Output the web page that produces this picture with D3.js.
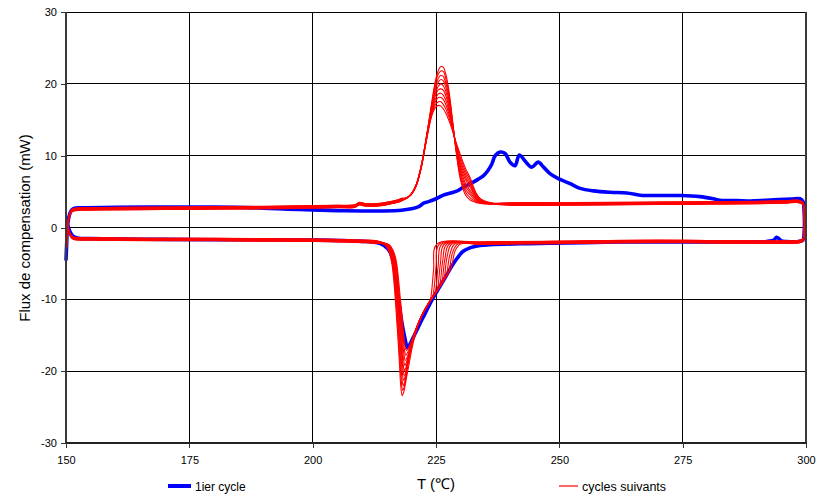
<!DOCTYPE html>
<html><head><meta charset="utf-8">
<script src="https://cdn.jsdelivr.net/npm/d3@7"></script>
<style>
body{margin:0;background:#fff}
svg{display:block}
text{font-family:"Liberation Sans",Arial,sans-serif;fill:#000}
</style>
</head><body><svg id="c" width="828" height="499"></svg>
<script>
// ---------- data ----------
const xTicks = [150, 175, 200, 225, 250, 275, 300];
const yTicks = [-30, -20, -10, 0, 10, 20, 30];
const yTickLabels = ["-30", "-20", "-10", "0", "10", "20", "30"];
const xTitle = "T (\u2103)";
const yTitle = "Flux de compensation (mW)";
const seriesNames = ["1ier cycle", "cycles suivants"];

// 1st cycle (blue): heating branch then cooling branch, [T, flux]
const blueHeat = [[150.0,-4.6],[150.15,-2.0],[150.3,0.2],[150.6,1.5],[151.0,2.3],[151.6,2.65],[153,2.75],[160,2.8],[170,2.85],[180,2.85],[190,2.7],[195,2.55],[200,2.45],[205,2.35],[210,2.3],[214,2.3],[218,2.4],[220,2.6],[221.5,2.9],[222.5,3.4],[223.5,3.6],[225,4.0],[226.5,4.5],[228,4.8],[229.3,5.1],[230.5,5.6],[232,6.1],[233.5,6.7],[234.6,7.2],[235.5,7.9],[236.3,8.8],[237.0,10.0],[238.0,10.5],[239.0,10.3],[240.0,9.1],[241.0,8.6],[241.9,10.1],[243.0,9.3],[244.4,8.4],[245.7,9.1],[246.8,8.4],[248.1,7.5],[249.8,6.8],[252.2,6.1],[254.2,5.45],[256.9,5.1],[260.3,4.9],[263.7,4.8],[266.4,4.5],[270,4.45],[274.6,4.45],[278.5,4.3],[281.2,4.0],[282.6,3.8],[286,3.75],[289.3,3.7],[293.4,3.85],[297,3.95],[298.8,4.0],[299.4,3.6],[299.6,2.5],[299.6,-1.0],[299.4,-1.75],[298.5,-1.95]];
const blueCool = [[296,-1.95],[295,-1.85],[294.4,-1.5],[294.0,-1.35],[293.5,-1.75],[292,-1.95],[285,-2.0],[275,-2.0],[265,-2.0],[255,-2.1],[248,-2.2],[242,-2.27],[236,-2.4],[233.9,-2.5],[232,-2.8],[230.5,-3.3],[229.5,-4.1],[228.5,-5.05],[226.5,-7.4],[224.5,-9.7],[222.4,-12.5],[220.4,-15.3],[219.6,-16.4],[219.2,-16.7],[218.7,-15.4],[218.0,-12.9],[217.0,-8.3],[216.3,-4.6],[215.3,-3.0],[213.6,-2.2],[209.6,-1.9],[205.5,-1.8],[200,-1.75],[190,-1.7],[180,-1.7],[170,-1.65],[160,-1.6],[155,-1.55],[152.5,-1.5],[151.5,-1.25],[150.9,-0.7],[150.5,0.0],[150.35,0.5]];

// following cycles (red): shared baseline pieces
const redHeatStart = [[150.0,-4.6],[150.15,-2.0],[150.3,0.2],[150.6,1.4],[151.0,2.2],[151.6,2.45],[153,2.55],[160,2.6],[170,2.65],[180,2.7],[190,2.75],[200,2.85],[205,2.9],[208.5,2.95],[209.5,3.3],[210.5,3.15],[212,3.1],[214,3.2],[216,3.45],[217.5,3.7],[218,3.85]];
const redPeakT = [219, 220, 221, 222, 223, 224, 224.5, 225, 225.5, 226, 226.5, 227, 227.5, 228, 228.5, 229, 229.5, 230, 231, 232, 233, 234, 236];
const redPeakV = [
  [4.1,4.7,6.0,8.6,12.4,16.8,19.0,20.8,21.9,22.4,22.3,21.3,19.6,17.0,14.0,11.0,8.4,6.5,4.5,3.8,3.5,3.35,3.25],
  [4.1,4.7,6.0,8.55,12.35,16.6,18.7,20.4,21.4,21.8,21.7,20.7,19.1,16.7,13.9,11.1,8.7,6.9,4.9,4.1,3.65,3.4,3.27],
  [4.05,4.7,5.95,8.55,12.3,16.45,18.4,19.9,20.8,21.2,21.0,20.1,18.6,16.4,13.8,11.2,9.0,7.3,5.3,4.5,3.8,3.5,3.3],
  [4.1,4.7,5.95,8.5,12.25,16.3,18.1,19.5,20.3,20.6,20.4,19.5,18.1,16.1,13.7,11.3,9.3,7.7,5.7,4.8,4.0,3.55,3.3],
  [4.05,4.65,5.9,8.45,12.2,16.1,17.8,19.0,19.7,20.0,19.7,18.9,17.6,15.8,13.6,11.4,9.6,8.1,6.1,5.1,4.15,3.6,3.35],
  [4.1,4.65,5.9,8.45,12.15,15.9,17.4,18.6,19.2,19.3,19.1,18.3,17.1,15.4,13.5,11.6,9.8,8.4,6.6,5.5,4.3,3.7,3.35],
  [4.05,4.6,5.85,8.4,12.1,15.75,17.1,18.1,18.6,18.7,18.4,17.7,16.6,15.1,13.4,11.7,10.1,8.8,7.0,5.8,4.5,3.75,3.4],
  [4.1,4.6,5.85,8.35,12.0,15.55,16.8,17.7,18.1,18.1,17.8,17.1,16.1,14.8,13.3,11.8,10.4,9.2,7.4,6.1,4.65,3.85,3.4],
  [4.05,4.6,5.8,8.3,11.95,15.4,16.5,17.2,17.5,17.5,17.1,16.5,15.6,14.5,13.2,11.9,10.7,9.6,7.8,6.5,4.8,3.9,3.45],
  [4.1,4.6,5.8,8.3,11.9,15.2,16.2,16.8,17.0,16.9,16.5,15.9,15.1,14.2,13.1,12.0,11.0,10.0,8.2,6.8,5.0,4.0,3.45]
];
const redHeatTail = [[240,3.25],[250,3.25],[260,3.3],[270,3.35],[280,3.4],[290,3.45],[296,3.55],[298.5,3.6],[299.4,3.3],[299.6,2.2],[299.6,-1.0],[299.4,-1.75],[298.5,-2.0]];
const redCoolHead = [[296,-2.05],[290,-2.05],[280,-2.0],[270,-1.95],[260,-2.0],[250,-2.1],[240,-2.15],[234,-2.2]];
const redCoolT = [
  [225.2,224.5,223.8,223.0,222.0,221.1,220.4,219.7,219.0,218.5,218.15,217.85,217.6,217.2,216.8,216.4,216.0,215.4,214.6],
  [225.7,225.0,224.3,223.5,222.5,221.5,220.8,220.1,219.5,219.0,218.55,218.25,217.95,217.7,217.3,216.9,216.5,216.1,215.5,214.7],
  [226.2,225.45,224.75,224.0,223.0,222.0,221.0,220.3,219.7,219.1,218.65,218.35,218.05,217.8,217.4,217.0,216.6,216.2,215.6,214.8],
  [226.7,225.9,225.2,224.5,223.5,222.5,221.5,220.6,219.9,219.3,218.8,218.45,218.15,217.9,217.5,217.1,216.7,216.3,215.7,214.9],
  [227.2,226.35,225.65,225.0,224.0,223.0,222.0,221.0,220.2,219.5,219.0,218.55,218.25,218.0,217.6,217.2,216.8,216.4,215.8,215.0],
  [227.7,226.8,226.1,225.5,224.5,223.5,222.5,221.5,220.6,219.9,219.3,218.9,218.6,218.3,218.05,217.7,217.3,216.9,216.5,215.9,215.1],
  [228.2,227.25,226.55,226.0,225.0,224.0,223.0,222.0,221.0,220.2,219.6,219.0,218.7,218.4,218.15,217.8,217.4,217.0,216.6,216.0,215.2],
  [228.8,227.8,227.05,226.5,225.5,224.5,223.5,222.5,221.5,220.6,219.9,219.3,218.8,218.5,218.25,217.9,217.5,217.1,216.7,216.1,215.3],
  [229.4,228.35,227.55,227.0,226.0,225.0,224.0,223.0,222.0,221.0,220.2,219.5,218.9,218.6,218.35,218.0,217.6,217.2,216.8,216.2,215.4],
  [230.0,228.9,228.05,227.5,226.5,225.5,224.5,223.5,222.5,221.5,220.6,219.8,219.0,218.7,218.45,218.1,217.7,217.3,216.9,216.3,215.5]
];
const redCoolV = [
  [-2.3,-6.0,-10.2,-11.2,-12.5,-14.2,-16.0,-18.4,-21.0,-22.8,-23.4,-22.0,-19.0,-14.5,-10.5,-7.0,-4.8,-3.2,-2.4],
  [-2.3,-5.6,-9.7,-10.6,-11.8,-13.3,-14.7,-16.4,-18.3,-20.4,-22.2,-22.7,-21.3,-18.6,-14.3,-10.4,-7.0,-4.8,-3.2,-2.4],
  [-2.3,-5.3,-9.25,-10.0,-11.1,-12.4,-14.1,-15.8,-17.6,-19.9,-21.5,-22.0,-20.7,-18.2,-14.1,-10.3,-7.0,-4.8,-3.2,-2.4],
  [-2.3,-5.0,-8.8,-9.5,-10.6,-11.8,-13.3,-15.0,-16.7,-18.7,-20.6,-21.3,-20.0,-17.8,-13.9,-10.2,-7.0,-4.8,-3.2,-2.4],
  [-2.3,-4.7,-8.35,-9.0,-10.0,-11.1,-12.4,-14.1,-15.9,-17.9,-19.7,-20.6,-19.4,-17.3,-13.6,-10.1,-6.9,-4.8,-3.2,-2.4],
  [-2.3,-4.4,-7.9,-8.5,-9.5,-10.5,-11.7,-13.2,-14.9,-16.6,-18.3,-19.5,-19.9,-18.8,-16.8,-13.3,-10.0,-6.9,-4.8,-3.2,-2.4],
  [-2.3,-4.1,-7.4,-8.0,-9.0,-10.0,-11.1,-12.4,-14.0,-15.8,-17.4,-18.8,-19.2,-18.2,-16.4,-13.0,-9.9,-6.8,-4.7,-3.2,-2.4],
  [-2.3,-3.8,-6.85,-7.4,-8.5,-9.5,-10.5,-11.7,-13.2,-14.9,-16.4,-17.8,-18.5,-17.6,-15.9,-12.7,-9.7,-6.7,-4.6,-3.2,-2.4],
  [-2.3,-3.5,-6.3,-6.9,-8.0,-9.0,-10.0,-11.1,-12.4,-14.0,-15.6,-17.0,-17.8,-17.0,-15.4,-12.4,-9.6,-6.6,-4.6,-3.2,-2.4],
  [-2.3,-3.2,-5.75,-6.3,-7.4,-8.5,-9.5,-10.5,-11.7,-13.2,-14.8,-16.2,-17.1,-16.4,-15.0,-12.1,-9.4,-6.5,-4.5,-3.2,-2.4]
];
const redCoolTail = [[213,-2.05],[210,-1.95],[205,-1.85],[200,-1.8],[190,-1.75],[180,-1.7],[170,-1.7],[160,-1.65],[155,-1.6],[152.5,-1.6],[151.5,-1.5],[150.9,-1.1],[150.5,-0.4],[150.35,0.3]];
// small spread of each cycle's baseline (band thickness)
const redBaseSpread = [0, 0.12, -0.1, 0.2, -0.15, 0.08, -0.05, 0.18, 0.03, -0.12];

// ---------- chart ----------
const M = {left: 66, right: 806, top: 12, bottom: 443};
const svg = d3.select("#c");
const x = d3.scaleLinear().domain([150, 300]).range([M.left, M.right]);
const y = d3.scaleLinear().domain([-30, 30]).range([M.bottom, M.top]);

// gridlines
const grid = svg.append("g").attr("shape-rendering", "crispEdges");
grid.selectAll(".hg").data(yTicks).join("line")
  .attr("x1", M.left).attr("x2", M.right)
  .attr("y1", d => y(d)).attr("y2", d => y(d))
  .attr("stroke", "#000").attr("stroke-width", 1);
grid.selectAll(".vg").data(xTicks).join("line")
  .attr("y1", M.top).attr("y2", M.bottom)
  .attr("x1", d => x(d)).attr("x2", d => x(d))
  .attr("stroke", "#000").attr("stroke-width", 1);

const line = d3.line()
  .x(d => x(d[0])).y(d => y(d[1]))
  .curve(d3.curveCatmullRom.alpha(0.5));

// blue first cycle
const bluePts = blueHeat.concat(blueCool);
svg.append("path").datum(bluePts)
  .attr("d", line).attr("fill", "none")
  .attr("stroke", "#0000ff").attr("stroke-width", 3.6)
  .attr("stroke-linejoin", "round");

// red following cycles
const shift = (arr, s) => arr.map(p => [p[0], p[1] + s]);
const redCycles = redPeakV.map((pv, k) => {
  const s = redBaseSpread[k];
  const peak = redPeakT.map((t, i) => [t, pv[i]]);
  const cool = redCoolT[k].map((t, i) => [t, redCoolV[k][i]]);
  return shift(redHeatStart, s)
    .concat(peak)
    .concat(shift(redHeatTail, s))
    .concat(shift(redCoolHead, s))
    .concat(cool)
    .concat(shift(redCoolTail, s));
});
svg.append("g").selectAll("path").data(redCycles).join("path")
  .attr("d", line).attr("fill", "none")
  .attr("stroke", "#ff0000").attr("stroke-width", 1.1)
  .attr("stroke-linejoin", "round");

// frame
const frame = svg.append("g").attr("shape-rendering", "crispEdges");
frame.append("line").attr("x1", M.left).attr("x2", M.right).attr("y1", M.top).attr("y2", M.top)
  .attr("stroke", "#000").attr("stroke-width", 1);
frame.append("line").attr("x1", M.left).attr("x2", M.left).attr("y1", M.top).attr("y2", M.bottom + 1)
  .attr("stroke", "#3a3a3a").attr("stroke-width", 2);
frame.append("line").attr("x1", M.right).attr("x2", M.right).attr("y1", M.top).attr("y2", M.bottom + 1)
  .attr("stroke", "#3a3a3a").attr("stroke-width", 2);
frame.append("line").attr("x1", M.left).attr("x2", M.right + 1).attr("y1", M.bottom).attr("y2", M.bottom)
  .attr("stroke", "#222").attr("stroke-width", 2);

// axes
const yAxis = d3.axisLeft(y).tickValues(yTicks).tickSize(5).tickPadding(4)
  .tickFormat((d, i) => yTickLabels[i]);
const gy = svg.append("g").attr("transform", `translate(${M.left},0)`).call(yAxis);
gy.select(".domain").remove();
gy.selectAll("line").attr("stroke", "#333").attr("shape-rendering", "crispEdges");
gy.selectAll("text").attr("font-size", 11).style("font-family", '"Liberation Sans",Arial,sans-serif');

const xAxis = d3.axisBottom(x).tickValues(xTicks).tickSize(5).tickPadding(8)
  .tickFormat(d => String(d));
const gx = svg.append("g").attr("transform", `translate(0,${M.bottom})`).call(xAxis);
gx.select(".domain").remove();
gx.selectAll("line").attr("stroke", "#333").attr("shape-rendering", "crispEdges");
gx.selectAll("text").attr("font-size", 11).style("font-family", '"Liberation Sans",Arial,sans-serif');

// titles
svg.append("text").attr("x", 436).attr("y", 489).attr("text-anchor", "middle")
  .attr("font-size", 15).text(xTitle);
svg.append("text").attr("transform", "translate(30,228) rotate(-90)")
  .attr("text-anchor", "middle").attr("font-size", 15).text(yTitle);

// legend
const leg = svg.append("g");
leg.append("line").attr("x1", 168).attr("x2", 191).attr("y1", 486).attr("y2", 486)
  .attr("stroke", "#0000ff").attr("stroke-width", 4);
leg.append("text").attr("x", 195).attr("y", 491).attr("font-size", 12).text(seriesNames[0]);
leg.append("line").attr("x1", 559).attr("x2", 578).attr("y1", 486).attr("y2", 486)
  .attr("stroke", "#ff0000").attr("stroke-width", 1.2);
leg.append("text").attr("x", 582).attr("y", 491).attr("font-size", 12.5).text(seriesNames[1]);
</script>
</body></html>
